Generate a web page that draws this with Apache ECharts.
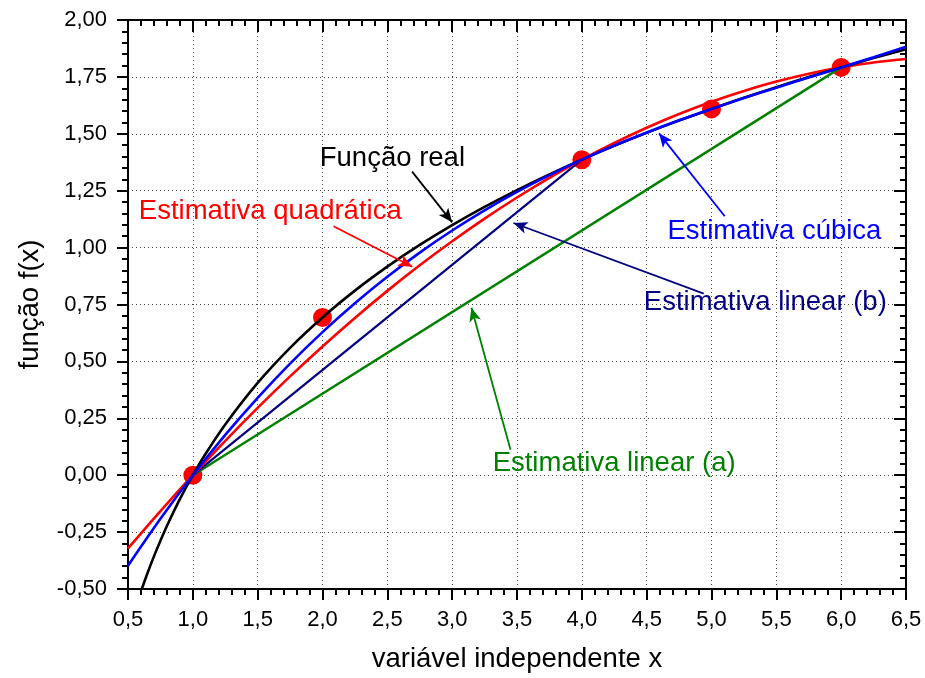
<!DOCTYPE html>
<html>
<head>
<meta charset="utf-8">
<title>Interpolação de ln(x)</title>
<script src="https://cdn.jsdelivr.net/npm/echarts@6/dist/echarts.min.js"></script>
<style>
  html, body { margin: 0; padding: 0; background: #ffffff; }
  #chart { width: 925px; height: 678px; }
</style>
</head>
<body>
<div id="chart"></div>
<script>
// Sample abscissas shared by the quadratic and cubic estimates
const sampleX = [0.5, 0.75, 1.0, 1.25, 1.5, 1.75, 2.0, 2.25, 2.5, 2.75, 3.0, 3.25, 3.5,
                 3.75, 4.0, 4.25, 4.5, 4.75, 5.0, 5.25, 5.5, 5.75, 6.0, 6.25, 6.5];
const quadraticValues = [-0.3218, -0.1577, 0.0, 0.1512, 0.2959, 0.4341, 0.5658, 0.6911, 0.8099,
                         0.9221, 1.0279, 1.1273, 1.2201, 1.3064, 1.3863, 1.4597, 1.5266, 1.5870,
                         1.6409, 1.6883, 1.7293, 1.7638, 1.7918, 1.8133, 1.8283];
const cubicValues = [-0.3975, -0.1913, 0.0, 0.1769, 0.3401, 0.4905, 0.6287, 0.7556, 0.8718,
                     0.9780, 1.0751, 1.1638, 1.2447, 1.3186, 1.3863, 1.4485, 1.5060, 1.5594,
                     1.6094, 1.6570, 1.7028, 1.7475, 1.7918, 1.8365, 1.8824];

// The real function, f(x) = ln x
const realX = [0.6065, 0.65, 0.7, 0.75, 0.8, 0.9, 1.0, 1.1, 1.25, 1.5, 1.75, 2.0, 2.25, 2.5, 2.75,
               3.0, 3.25, 3.5, 3.75, 4.0, 4.25, 4.5, 4.75, 5.0, 5.25, 5.5, 5.75, 6.0, 6.25, 6.5];
const realValues = [-0.5, -0.4308, -0.3567, -0.2877, -0.2231, -0.1054, 0.0, 0.0953, 0.2231, 0.4055,
                    0.5596, 0.6931, 0.8109, 0.9163, 1.0116, 1.0986, 1.1787, 1.2528, 1.3218, 1.3863,
                    1.4469, 1.5041, 1.5581, 1.6094, 1.6582, 1.7047, 1.7492, 1.7918, 1.8326, 1.8718];

// Straight-line estimates
const linearAX = [1, 6];
const linearAValues = [0, 1.7918];
const linearBX = [1, 4];
const linearBValues = [0, 1.3863];

// Known nodes
const nodeX = [1, 2, 4, 5, 6];
const nodeValues = [0, 0.6931, 1.3863, 1.6094, 1.7918];

// Annotation texts and their arrows (data coordinates)
const noteTexts = ['Função real', 'Estimativa quadrática', 'Estimativa cúbica',
                   'Estimativa linear (b)', 'Estimativa linear (a)'];
const noteColors = ['#000000', '#ff0000', '#0000ff', '#000080', '#008000'];
const noteX = [2.539, 1.597, 5.485, 5.415, 4.249];
const noteY = [1.392, 1.161, 1.073, 0.759, 0.051];
const arrowFromX = [2.691, 2.085, 5.102, 4.940, 3.450];
const arrowFromY = [1.334, 1.094, 1.138, 0.798, 0.112];
const arrowToX = [3.000, 2.693, 4.595, 3.473, 3.149];
const arrowToY = [1.111, 0.916, 1.502, 1.108, 0.736];

const FONT = '"Liberation Sans", Arial, Helvetica, sans-serif';

function pairs(xs, ys) { return xs.map((x, i) => [x, ys[i]]); }
const fmtX = v => v.toFixed(1).replace('.', ',');
const fmtY = v => v.toFixed(2).replace('.', ',');

const gridLine = { show: true, lineStyle: { color: '#444', width: 1, type: [1, 3] } };

function axisBase(extra) {
  return Object.assign({
    type: 'value',
    axisLine: { show: true, onZero: false, lineStyle: { color: '#000', width: 2 } },
    axisTick: { show: true, length: 11, lineStyle: { color: '#000', width: 2 } },
    minorTick: { show: true, splitNumber: 5, length: 6, lineStyle: { color: '#000', width: 2 } },
    splitLine: { show: false }
  }, extra);
}

const chart = echarts.init(document.getElementById('chart'), null, { renderer: 'canvas' });

const arrowData = noteTexts.map((t, i) => [
  { coord: [arrowFromX[i], arrowFromY[i]], lineStyle: { color: noteColors[i] } },
  { coord: [arrowToX[i], arrowToY[i]] }
]);

chart.setOption({
  animation: false,
  backgroundColor: '#ffffff',
  textStyle: { fontFamily: FONT },
  grid: { left: 128, right: 19, top: 20, bottom: 86 },
  xAxis: [
    axisBase({
      position: 'bottom', min: 0.5, max: 6.5, interval: 0.5,
      name: 'variável independente x', nameLocation: 'middle', nameGap: 56,
      nameTextStyle: { fontSize: 27.5, color: '#000', fontFamily: FONT },
      axisLabel: { fontSize: 22, color: '#000', margin: 20, fontFamily: FONT, formatter: fmtX },
      splitLine: gridLine
    }),
    axisBase({
      position: 'top', min: 0.5, max: 6.5, interval: 0.5,
      axisLabel: { show: false },
      axisTick: { show: true, inside: true, length: 12, lineStyle: { color: '#000', width: 2 } },
      minorTick: { show: true, splitNumber: 5, length: 6, lineStyle: { color: '#000', width: 2 } }
    })
  ],
  yAxis: [
    axisBase({
      position: 'left', min: -0.5, max: 2.0, interval: 0.25,
      name: 'função f(x)', nameLocation: 'middle', nameGap: 84,
      nameTextStyle: { fontSize: 27.5, color: '#000', fontFamily: FONT },
      axisLabel: { fontSize: 22, color: '#000', margin: 21, fontFamily: FONT, formatter: fmtY },
      splitLine: gridLine
    }),
    axisBase({
      position: 'right', min: -0.5, max: 2.0, interval: 0.25,
      axisLabel: { show: false },
      axisTick: { show: true, inside: true, length: 12, lineStyle: { color: '#000', width: 2 } },
      minorTick: { show: true, splitNumber: 5, length: 6, lineStyle: { color: '#000', width: 2 } }
    })
  ],
  series: [
    {
      name: 'Pontos', type: 'scatter', data: pairs(nodeX, nodeValues),
      symbol: 'circle', symbolSize: 19, itemStyle: { color: '#ff0000', opacity: 1 }, z: 1
    },
    {
      name: 'Estimativa linear (a)', type: 'line', data: pairs(linearAX, linearAValues),
      showSymbol: false, symbol: 'none', lineStyle: { color: '#008000', width: 2.5 }
    },
    {
      name: 'Estimativa linear (b)', type: 'line', data: pairs(linearBX, linearBValues),
      showSymbol: false, symbol: 'none', lineStyle: { color: '#000080', width: 2.2 }
    },
    {
      name: 'Estimativa quadrática', type: 'line', data: pairs(sampleX, quadraticValues),
      smooth: 0.3, showSymbol: false, symbol: 'none', lineStyle: { color: '#ff0000', width: 2.6 }
    },
    {
      name: 'Função real', type: 'line', data: pairs(realX, realValues),
      smooth: 0.3, showSymbol: false, symbol: 'none', lineStyle: { color: '#000000', width: 2.6 }
    },
    {
      name: 'Estimativa cúbica', type: 'line', data: pairs(sampleX, cubicValues),
      smooth: 0.3, showSymbol: false, symbol: 'none', lineStyle: { color: '#0000ff', width: 2.6 },
      markLine: {
        silent: true, animation: false,
        symbol: ['none', 'arrow'], symbolSize: [9, 14],
        label: { show: false },
        lineStyle: { width: 1.8, type: 'solid', opacity: 1 },
        data: arrowData
      }
    },
    {
      name: 'Anotações', type: 'scatter', symbolSize: 0, silent: true, z: 5,
      itemStyle: { opacity: 1 },
      data: noteTexts.map((t, i) => ({
        value: [noteX[i], noteY[i]],
        name: t,
        label: { color: noteColors[i] }
      })),
      label: {
        show: true, position: 'inside', fontSize: 27.5, fontFamily: FONT, opacity: 1,
        formatter: p => p.name
      }
    }
  ]
});
</script>
</body>
</html>
